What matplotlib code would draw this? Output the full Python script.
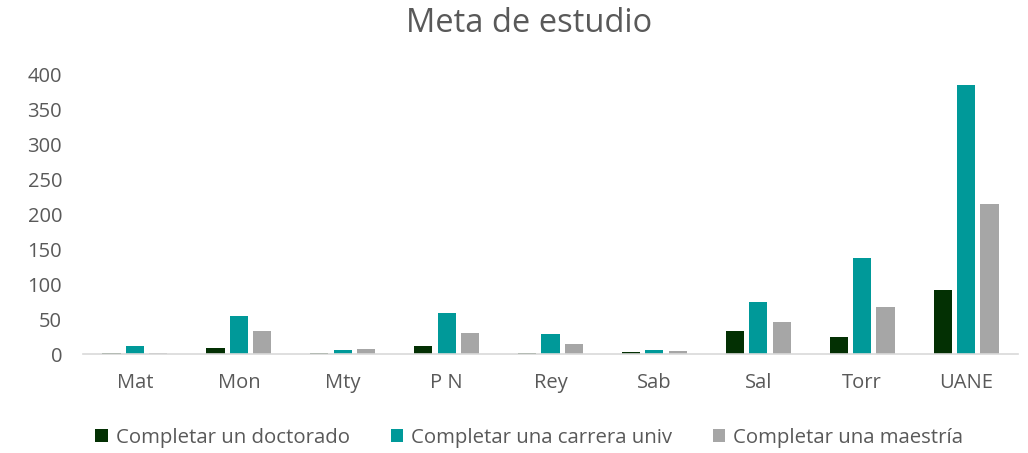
import matplotlib
matplotlib.use("Agg")
import matplotlib.pyplot as plt
import numpy as np

categories = ["Mat", "Mon", "Mty", "P N", "Rey", "Sab", "Sal", "Torr", "UANE"]
series_names = ["Completar un doctorado", "Completar una carrera univ", "Completar una maestría"]
doctorado = [1, 8, 1, 12, 2, 3, 33, 25, 91]
carrera = [11, 55, 6, 58, 29, 6, 74, 137, 385]
maestria = [2, 33, 7, 30, 14, 5, 46, 67, 215]
colors = ["#033003", "#009999", "#A6A6A6"]

plt.rcParams['font.family'] = ['Open Sans', 'DejaVu Sans']
txt = "#595959"

fig = plt.figure(figsize=(10.28, 4.53), dpi=100)
ax = fig.add_axes([83 / 1028, 0.2185, (1018 - 83) / 1028, 0.618])

x = np.arange(len(categories))
w = 0.175
step = 0.225
for i, (vals, name, c) in enumerate(zip([doctorado, carrera, maestria], series_names, colors)):
    ax.bar(x + (i - 1) * step, vals, width=w, color=c, label=name, zorder=2)

ax.set_xlim(-0.5, len(categories) - 0.5)
ax.set_ylim(0, 400)
ax.set_yticks(range(0, 401, 50))
ax.set_xticks(x)
ax.set_xticklabels(categories)
ax.tick_params(axis='both', length=0, labelsize=14.5, colors=txt)
ax.tick_params(axis='x', pad=14)
ax.tick_params(axis='y', pad=15)
for s in ["top", "right", "left"]:
    ax.spines[s].set_visible(False)
ax.spines["bottom"].set_color("#D9D9D9")
ax.spines["bottom"].set_linewidth(1.2)

fig.text(0.515, 0.948, "Meta de estudio", ha="center", va="center", fontsize=23.5, color=txt)

fig.legend(loc="center", bbox_to_anchor=(0.515, 0.033), ncol=3, frameon=False,
           fontsize=14.7, labelcolor=txt, handlelength=0.6, handleheight=0.6,
           handletextpad=0.4, columnspacing=2.0)

fig.savefig("out.png", dpi=100)
